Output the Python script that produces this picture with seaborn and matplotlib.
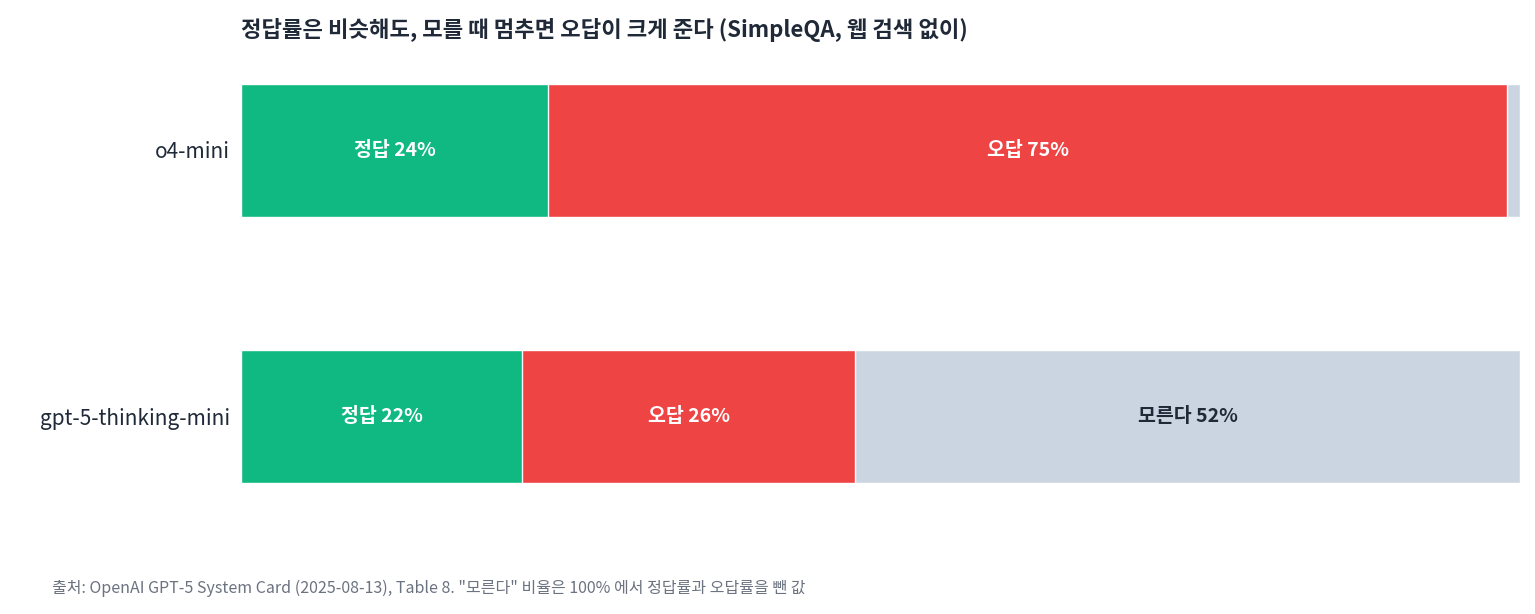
import matplotlib
matplotlib.use("Agg")
import matplotlib.pyplot as plt
import seaborn as sns
import pandas as pd
import numpy as np

models = ["o4-mini", "gpt-5-thinking-mini"]
correct = [24, 22]
wrong = [75, 26]
unknown = [1, 52]
seg_names = ["정답", "오답", "모른다"]
colors = ["#10b981", "#ef4444", "#cbd5e1"]
text_colors = ["white", "white", "#1f2937"]

sns.set_theme(style="white")
plt.rcParams['font.family'] = ['Noto Sans CJK KR', 'DejaVu Sans']

fig = plt.figure(figsize=(15.35, 6.14), dpi=100)
ax = fig.add_axes([241/1535, 1-522.4/614, (1520-241)/1535, 478.8/614])

segs = [correct, wrong, unknown]
cum = np.cumsum(np.array(segs), axis=0)
for i in [2, 1, 0]:
    df = pd.DataFrame({"model": models, "v": cum[i]})
    sns.barplot(data=df, x="v", y="model", orient="h", color=colors[i],
                saturation=1, width=0.5, ax=ax, order=models)

for j in range(len(models)):
    start = 0
    for i in range(3):
        v = segs[i][j]
        if v >= 5:
            ax.text(start + v/2, j, f"{seg_names[i]} {v}%", ha="center", va="center",
                    color=text_colors[i], fontsize=14, fontweight="bold")
        start += v

ax.set_xlim(0, 100)
ax.set_ylim(1.4, -0.4)
ax.set_xlabel(""); ax.set_ylabel("")
ax.set_xticks([])
ax.tick_params(axis="y", length=0, labelsize=15, labelcolor="#1f2937", pad=8)
for s in ax.spines.values():
    s.set_visible(False)

fig.text(241/1535, 1-30/614, "정답률은 비슷해도, 모를 때 멈추면 오답이 크게 준다 (SimpleQA, 웹 검색 없이)",
         fontsize=16, fontweight="bold", color="#1f2937", ha="left", va="center")
fig.text(52/1535, 1-588/614,
         '출처: OpenAI GPT-5 System Card (2025-08-13), Table 8. "모른다" 비율은 100% 에서 정답률과 오답률을 뺀 값',
         fontsize=11.5, color="#6b7280", ha="left", va="center")

fig.savefig("out.png", dpi=100)
